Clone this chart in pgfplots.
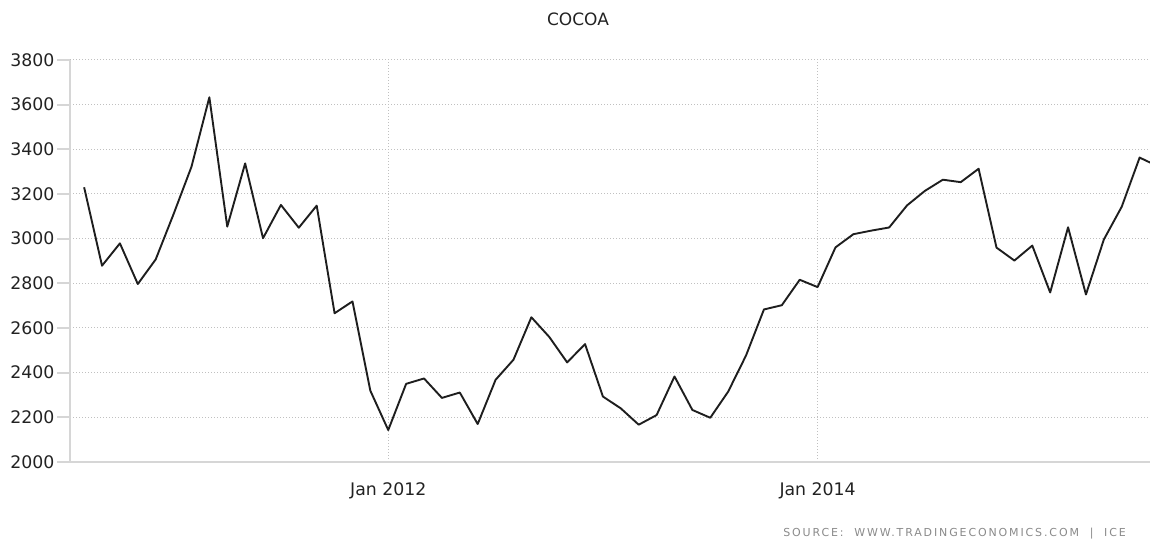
\documentclass[border=0pt]{standalone}
\usepackage{pgfplots}
\pgfplotsset{compat=1.18}
\usepackage{fontspec}
\setmainfont{DejaVu Sans}
\definecolor{txt}{HTML}{222222}
\definecolor{linec}{HTML}{1E1E1E}
\definecolor{gridc}{HTML}{C0C0C0}
\definecolor{axc}{HTML}{D6D6D6}
\definecolor{src}{HTML}{8A8A8A}
\begin{document}
\begin{tikzpicture}
\path[use as bounding box] (0,0) rectangle (1151pt,540pt);
\begin{axis}[
 at={(70pt,78pt)}, anchor=south west,
 scale only axis, width=1080pt, height=402pt,
 xmin=-17.79, xmax=42.58, ymin=2000, ymax=3800,
 axis x line*=bottom, axis y line*=left,
 axis line style={axc, line width=2pt},
 xtick={0,24}, xticklabels={Jan 2012, Jan 2014},
 ytick={2000,2200,...,3800},
 grid=major,
 grid style={gridc, line width=1pt, dash pattern=on 1pt off 2pt},
 tick align=outside, major tick length=13pt,
 tick style={axc, line width=2pt},
 every major x tick/.append style={draw=none},
 ticklabel style={font=\fontsize{17.3}{20}\selectfont, text=txt},
 /pgf/number format/assume math mode=true,
 /pgf/number format/1000 sep={},
 xticklabel style={yshift=-4pt},
 yticklabel style={xshift=1pt},
]
\addplot[linec, line width=1.9pt, line join=round, mark=none] coordinates {
(-17,3230) (-16,2879) (-15,2979) (-14,2797) (-13,2907) (-12,3110) (-11,3322)
(-10,3633) (-9,3054) (-8,3337) (-7,3002) (-6,3151) (-5,3049) (-4,3148)
(-3,2666) (-2,2719) (-1,2319) (0,2143) (1,2350) (2,2374) (3,2287) (4,2311)
(5,2170) (6,2368) (7,2458) (8,2648) (9,2560) (10,2446) (11,2528) (12,2293)
(13,2240) (14,2167) (15,2210) (16,2383) (17,2233) (18,2198) (19,2315)
(20,2477) (21,2683) (22,2702) (23,2816) (24,2783) (25,2961) (26,3020)
(27,3036) (28,3050) (29,3149) (30,3214) (31,3264) (32,3253) (33,3313)
(34,2960) (35,2902) (36,2969) (37,2759) (38,3051) (39,2750) (40,2996)
(41,3143) (42,3363) (43,3325)
};
\draw[axc, line width=2pt] (axis cs:0,2000) -- ([yshift=-5pt]axis cs:0,2000);
\draw[axc, line width=2pt] (axis cs:24,2000) -- ([yshift=-5pt]axis cs:24,2000);
\end{axis}
\node[text=txt, font=\fontsize{17}{20}\selectfont] at (578pt,521pt) {COCOA};
\node[anchor=base east, inner sep=0pt, text=src, font=\fontsize{11}{13}\selectfont\addfontfeatures{LetterSpace=17}] at (1126pt,3pt) {SOURCE:\ \ WWW.TRADINGECONOMICS.COM\ \ |\ \ ICE};
\end{tikzpicture}
\end{document}
